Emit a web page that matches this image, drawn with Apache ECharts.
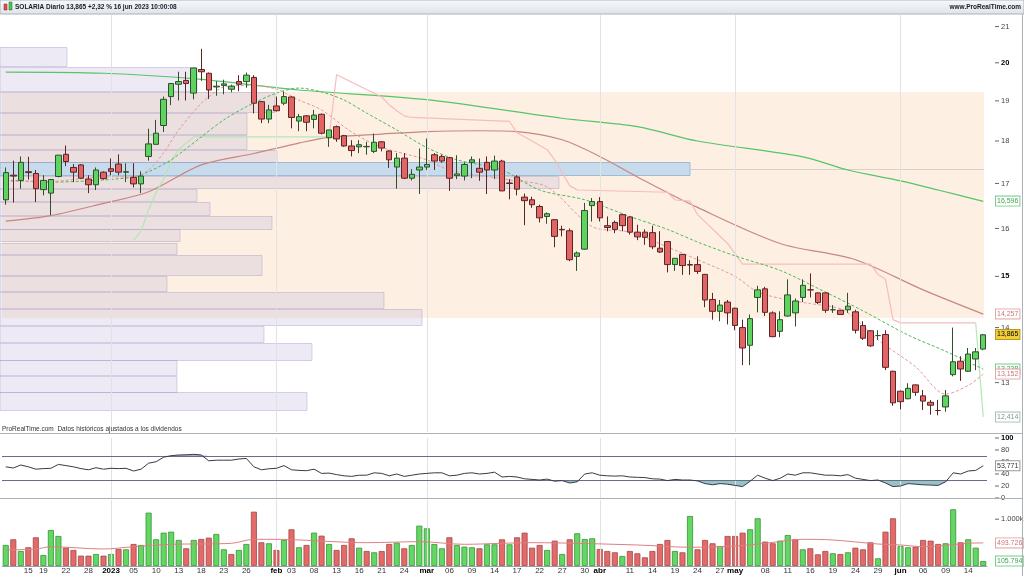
<!DOCTYPE html>
<html><head><meta charset="utf-8">
<script src="https://cdn.jsdelivr.net/npm/echarts@6/dist/echarts.min.js"></script>
<style>html,body{margin:0;padding:0;background:#fff}#c{width:1024px;height:576px}</style>
</head><body><div id="c"></div>
<script>
// ---------------- DATA ----------------
const dates = ['12/12','13/12','14/12','15/12','16/12','19/12','20/12','21/12','22/12','23/12','27/12','28/12','29/12','30/12',
'02/01','03/01','04/01','05/01','06/01','09/01','10/01','11/01','12/01','13/01','16/01','17/01','18/01','19/01','20/01','23/01','24/01','25/01','26/01','27/01','30/01','31/01',
'01/02','02/02','03/02','06/02','07/02','08/02','09/02','10/02','13/02','14/02','15/02','16/02','17/02','20/02','21/02','22/02','23/02','24/02','27/02','28/02',
'01/03','02/03','03/03','06/03','07/03','08/03','09/03','10/03','13/03','14/03','15/03','16/03','17/03','20/03','21/03','22/03','23/03','24/03','27/03','28/03','29/03','30/03','31/03',
'03/04','04/04','05/04','06/04','11/04','12/04','13/04','14/04','17/04','18/04','19/04','20/04','21/04','24/04','25/04','26/04','27/04','28/04',
'02/05','03/05','04/05','05/05','08/05','09/05','10/05','11/05','12/05','15/05','16/05','17/05','18/05','19/05','22/05','23/05','24/05','25/05','26/05','29/05','30/05','31/05',
'01/06','02/06','05/06','06/06','07/06','08/06','09/06','12/06','13/06','14/06','15/06','16/06'];

// [open, high, low, close]
const candles = [
[16.63,17.37,16.52,17.25],[17.19,17.53,16.57,17.17],[17.07,17.63,16.88,17.49],[17.27,17.62,17.09,17.25],[17.23,17.31,16.58,16.88],
[16.86,17.19,16.73,17.07],[16.78,17.09,16.29,17.09],[17.16,17.66,17.14,17.66],[17.68,17.89,17.40,17.51],[17.37,17.45,17.03,17.26],
[17.43,17.45,17.10,17.12],[17.10,17.19,16.78,16.97],[16.97,17.37,16.85,17.31],[17.26,17.28,17.09,17.11],
[17.34,17.58,17.19,17.28],[17.45,17.68,17.19,17.26],[17.26,17.47,17.03,17.27],[17.14,17.47,16.91,16.99],[16.99,17.28,16.78,17.17],
[17.63,18.30,17.53,17.93],[17.92,18.52,17.92,18.19],[18.38,19.11,18.22,19.04],[19.11,19.45,18.89,19.45],[19.43,19.76,19.01,19.50],
[19.53,19.76,19.01,19.45],[19.20,19.86,19.04,19.86],[19.82,20.38,19.52,19.76],[19.72,19.74,19.05,19.28],[19.36,19.51,19.13,19.38],
[19.40,19.55,19.17,19.44],[19.30,19.42,19.22,19.38],[19.50,19.67,19.25,19.43],[19.50,19.74,19.34,19.67],[19.61,19.67,18.68,18.94],
[18.98,19.00,18.44,18.54],[18.54,18.90,18.44,18.77],
[18.87,19.11,18.73,18.75],[18.94,19.24,18.89,19.11],[19.10,19.12,18.31,18.58],[18.49,18.67,18.24,18.60],[18.62,18.64,18.24,18.46],
[18.53,18.77,18.31,18.64],[18.66,18.68,18.16,18.19],[18.08,18.27,17.86,18.27],[18.35,18.38,17.98,18.05],[18.13,18.15,17.86,17.88],
[17.88,18.02,17.63,17.77],[17.86,18.02,17.71,17.91],[17.86,17.98,17.67,17.87],[17.75,18.18,17.71,17.97],[17.98,18.00,17.75,17.83],
[17.76,17.78,17.36,17.55],[17.38,17.71,16.88,17.59],[17.59,17.71,17.10,17.12],[17.12,17.33,17.07,17.21],[17.31,17.82,16.76,17.38],
[17.38,18.06,17.31,17.44],[17.67,17.71,17.31,17.52],[17.63,17.67,17.48,17.52],[17.60,17.62,16.83,17.12],[17.18,17.66,17.10,17.22],
[17.17,17.49,17.07,17.44],[17.49,17.63,17.12,17.55],[17.35,17.58,17.06,17.26],[17.49,17.63,16.76,17.31],[17.31,17.65,17.10,17.52],
[17.52,17.55,16.83,16.83],[17.01,17.10,16.64,17.00],[17.15,17.19,16.73,16.87],[16.69,16.77,16.07,16.61],[16.63,16.70,16.45,16.52],
[16.48,16.52,16.13,16.23],[16.26,16.35,16.10,16.32],[16.19,16.20,15.60,15.83],[15.98,16.06,15.83,15.97],[15.95,16.00,15.31,15.34],
[15.41,15.51,15.11,15.48],[15.56,16.56,15.55,16.39],[16.50,16.67,16.15,16.59],
[16.59,16.69,16.15,16.23],[16.06,16.26,15.94,16.02],[16.13,16.17,15.90,15.98],[16.30,16.32,15.94,16.06],[16.25,16.26,15.87,15.92],
[15.92,16.08,15.75,15.82],[15.92,15.98,15.65,15.81],[15.91,16.06,15.56,15.61],[15.58,15.94,15.48,15.50],[15.72,15.73,15.08,15.24],
[15.24,15.37,15.11,15.37],[15.45,15.46,15.03,15.22],[15.24,15.33,15.03,15.23],[15.24,15.41,15.05,15.10],[15.04,15.05,14.39,14.53],
[14.54,14.67,14.15,14.31],[14.31,14.53,14.12,14.43],[14.49,14.53,14.06,14.28],
[14.37,14.38,13.95,14.04],[14.00,14.15,13.31,13.62],[13.67,14.25,13.31,14.17],[14.58,14.81,14.29,14.73],[14.75,14.79,14.22,14.29],
[14.28,14.31,13.82,13.83],[13.93,14.31,13.82,14.15],[14.22,14.94,14.21,14.63],[14.28,14.56,14.02,14.51],[14.58,14.94,14.49,14.82],
[14.73,15.06,14.58,14.73],[14.67,14.68,14.45,14.48],[14.67,14.68,14.28,14.33],[14.34,14.43,14.28,14.34],[14.33,14.34,14.25,14.25],
[14.34,14.67,14.28,14.41],[14.30,14.34,13.89,13.95],[14.04,14.12,13.77,13.80],[13.94,13.95,13.64,13.66],[13.85,13.95,13.77,13.85],
[13.87,13.95,13.22,13.27],[13.20,13.21,12.60,12.65],
[12.85,12.86,12.54,12.67],[12.72,12.99,12.71,12.90],[12.96,12.97,12.77,12.83],[12.77,12.87,12.53,12.68],[12.66,12.70,12.45,12.61],
[12.52,12.70,12.44,12.52],[12.58,12.87,12.50,12.77],[13.14,14.00,13.11,13.37],[13.38,13.47,13.03,13.24],[13.20,13.62,13.19,13.51],
[13.42,13.62,13.22,13.55],[13.60,13.88,13.58,13.865]];

// volume in thousands of shares
const volumes = [449,570,320,400,613,235,769,641,391,342, 221,221,256,221,256,363,356,470,449,1139,
570,712,733,556,378,556,577,605,684,356, 256,342,470,1160,506,485,342,556,784,400,
449,712,648,470,342,449,591,391,320,292, 320,470,498,378,449,862,805,470,378,613,
449,413,400,378,463,463,570,463,613,712, 391,449,342,541,256,570,698,577,591,363,
320,292,214,320,271,185,320,470,556,320, 292,1068,356,556,485,427,641,641,712,784,
1019,520,485,541,662,570,356,378,249,320, 271,256,292,391,356,506,164,733,1019,427,
400,413,556,541,470,485,1211,506,570,391, 105.794];
const volumeUp = [1,0,1,0,0,1,1,1,0,0, 0,0,1,0,1,0,1,0,1,1, 1,1,1,1,0,1,0,0,1,1, 0,1,1,0,0,1,0,1,0,1,
0,1,0,1,0,0,0,1,0,1, 0,0,1,0,1,1,1,1,1,0, 1,1,1,0,1,1,0,1,0,0, 0,0,1,0,1,0,1,1,1,0,
0,0,1,0,0,0,0,0,0,1, 0,1,0,0,0,1,0,0,0,1, 1,0,0,1,1,0,1,0,0,0, 1,0,1,0,0,0,1,0,0,1,
1,0,0,0,0,1,1,0,1,1, 1];
const volumeAvg = [['12/12',342],['16/12',363],['20/12',412],['30/12',363],['05/01',412],['12/01',463],['24/01',485],
['27/01',570],['01/02',570],['06/02',556],['17/02',498],['28/02',520],['08/03',463],['15/03',485],['21/03',498],
['12/04',449],['21/04',400],['02/05',427],['08/05',485],['15/05',570],['19/05',556],['29/05',470],['01/06',449],
['06/06',412],['14/06',485],['16/06',493.726]];

const rsi = [52,50,55,52,48,49,49.5,56,54,52, 49,47,50.5,48,49.5,49,49.5,45,48,58,
60.5,68,70.5,71.7,72,72.8,71.7,62,63,63, 63,65,66,52,47,48.7,49.5,54,47,46,
45.5,48,41,41.5,39,37,36,38,38,42, 41,37,40,36,38,40,41,42,42,37,
38,41,42,40,41,43,35,36,35,32, 31,30,31.5,28,29,25,27,40,42,38,
37,36.5,37,35,34.5,34,32,31.5,29,31, 30,30,28.5,24,22,24,23,21,19,28,
38,33,29,33,40,38,42,42,40,38, 38,37,39,33,31,29,30,25,19,20,
24,23,22,21.5,21,27,42,40,45,46, 53.771];

const maLong = [['12/12',19.75],['30/12',19.72],['18/01',19.56],['06/02',19.28],['01/03',19.03],['27/03',18.56],
['12/04',18.35],['24/04',18.0],['15/05',17.62],['23/05',17.31],['01/06',17.06],['08/06',16.85],['16/06',16.596]];
const maMid = [['12/12',16.16],['20/12',16.28],['30/12',16.55],['09/01',16.81],['18/01',17.43],['27/01',17.70],
['06/02',17.95],['10/02',18.09],['21/02',18.17],['01/03',18.23],['10/03',18.25],['17/03',18.23],['27/03',18.03],
['03/04',17.63],['12/04',17.15],['24/04',16.46],['10/05',15.68],['24/05',15.34],['06/06',14.73],['16/06',14.257]];
const maFast = [['12/12',17.05],['20/12',17.05],['30/12',17.15],['05/01',17.15],['09/01',17.31],['11/01',17.72],
['13/01',18.27],['18/01',18.94],['19/01',19.10],['23/01',19.36],['27/01',19.40],['01/02',19.30],['06/02',19.02],
['09/02',18.77],['15/02',18.22],['21/02',17.85],['01/03',17.55],['06/03',17.31],['16/03',17.08],['23/03',16.92],
['31/03',16.04],['11/04',15.92],['19/04',15.54],['24/04',15.34],['02/05',15.0],['05/05',14.69],['11/05',14.53],
['16/05',14.46],['22/05',14.36],['24/05',14.17],['29/05',13.77],['05/06',13.28],['09/06',12.80],['14/06',12.95],['16/06',13.152]];
const maSlow = [['12/12',17.08],['20/12',17.03],['30/12',17.08],['05/01',17.15],['09/01',17.27],['12/01',17.55],
['18/01',18.10],['23/01',18.52],['26/01',18.85],['01/02',19.20],['06/02',19.33],['09/02',19.23],['14/02',19.02],
['17/02',18.69],['23/02',18.27],['01/03',17.84],['07/03',17.55],['15/03',17.31],['22/03',16.85],['30/03',16.63],
['11/04',16.26],['18/04',15.98],['24/04',15.71],['02/05',15.42],['10/05',15.12],['17/05',14.76],['25/05',14.32],
['02/06',13.86],['09/06',13.56],['16/06',13.238]];
const stopUp = [['05/01',15.75],['06/01',15.95],['09/01',16.4],['10/01',16.8],['11/01',17.1],['12/01',17.5],
['13/01',17.8],['17/01',18.1],['10/02',18.1]];
const stopDown = [['10/02',18.1],['13/02',19.68],['21/02',19.10],['22/02',18.9],['23/02',18.75],['24/02',18.62],
['27/02',18.58],['16/03',18.48],['17/03',18.2],['21/03',18.0],['23/03',17.79],['24/03',17.55],['28/03',16.95],
['29/03',16.85],['18/04',16.80],['19/04',16.63],['21/04',16.60],['24/04',16.3],['28/04',15.68],['03/05',15.25],
['26/05',15.25],['29/05',15.04],['30/05',14.94],['31/05',14.15],['01/06',14.09],['15/06',14.09]];
const stopUpEnd = [['15/06',14.09],['16/06',12.414]];

// volume-by-price profile: price band low / high and relative volume
const profileLow  = [12.51,12.83,13.12,13.40,13.72,14.03,14.36,14.69,15.00,15.44,15.70,15.98,16.28,16.58,16.87,17.17,17.49,17.79,18.15,18.69,19.23,19.89];
const profileHigh = [12.83,13.12,13.40,13.72,14.03,14.36,14.69,15.00,15.44,15.70,15.98,16.28,16.58,16.87,17.17,17.49,17.79,18.15,18.69,19.23,19.89,20.44];
const profileVol  = [305,175,175,310,262,420,382,165,260,175,178,270,208,195,557,688,275,245,245,273,195,65];
const profileMax = 985;
const pocPrice = [17.17,17.49];
const valueArea = [14.18,19.23];

const priceTicks = [13,14,15,16,17,18,19,20,21];
const priceTicksBold = [15,20];
const rsiTicks = [0,20,40,60,80,100];
const rsiBands = [30,70];
const tickLabels = [['15/12','15'],['19/12','19'],['22/12','22'],['28/12','28'],['02/01','2023'],['05/01','05'],['10/01','10'],
['13/01','13'],['18/01','18'],['23/01','23'],['26/01','26'],['01/02','feb'],['03/02','03'],['08/02','08'],['13/02','13'],
['16/02','16'],['21/02','21'],['24/02','24'],['01/03','mar'],['06/03','06'],['09/03','09'],['14/03','14'],['17/03','17'],
['22/03','22'],['27/03','27'],['30/03','30'],['03/04','abr'],['11/04','11'],['14/04','14'],['19/04','19'],['24/04','24'],
['27/04','27'],['02/05','may'],['08/05','08'],['11/05','11'],['16/05','16'],['19/05','19'],['24/05','24'],['29/05','29'],
['01/06','jun'],['06/06','06'],['09/06','09'],['14/06','14']];
const boldTickLabels = ['2023','feb','mar','abr','may','jun'];
const monthStarts = ['02/01','01/02','01/03','03/04','02/05','01/06'];
const headerText = 'SOLARIA Diario 13,865 +2,32 % 16 jun 2023 10:00:08';
const footText = 'ProRealTime.com  Datos históricos ajustados a los dividendos';

// ---------------- CHART ----------------
const FONT = '"Liberation Sans", Arial, sans-serif';
const chart = echarts.init(document.getElementById('c'), null, {renderer:'canvas'});
const labelMap = new Map(tickLabels);
const HIDE = {color:'rgba(0,0,0,0)', width:0};

function tickMark(v, bold, text){
  return {yAxis:v, lineStyle:HIDE, label:{show:true, position:'end', distance:8,
    formatter:'{d|}{' + (bold?'b':'n') + '|' + (text||v) + '}',
    rich:{d:{width:4,height:1,backgroundColor:'#666'},
          n:{fontSize:7.5,color:'#444',padding:[0,0,0,2],fontFamily:FONT},
          b:{fontSize:7.5,color:'#000',fontWeight:'bold',padding:[0,0,0,2],fontFamily:FONT}}}};
}
function valueBox(v, text, color, border, bg){
  return {yAxis:v, lineStyle:HIDE, label:{show:true, position:'end', distance:9, formatter:text,
    color:color, backgroundColor:bg||'#fff', borderColor:border, borderWidth:1, padding:[1,1,0,1],
    fontSize:7, fontFamily:FONT, lineHeight:8}};
}
const monthLines = monthStarts.map(d => ({xAxis:d, lineStyle:{color:'#e2e2e2',width:1,type:'solid'}, label:{show:false}}));
const ML = (data) => ({silent:true, symbol:['none','none'], animation:false, data});

const candleData = candles.map(c => [c[0], c[3], c[2], c[1]]);
const volData = volumes.map((v,i) => ({value:v, itemStyle: volumeUp[i]
  ? {color:'#62d862', borderColor:'#3b8f3b', borderWidth:0.8}
  : {color:'#e46a6a', borderColor:'#a24848', borderWidth:0.8}}));
// RSI excursions beyond the 70 / 30 bands (filled like the reference)
const rsiOverBase = rsi.map(() => rsiBands[1]);
const rsiOver = rsi.map(v => Math.max(v - rsiBands[1], 0));
const rsiUnderBase = rsi.map(v => Math.min(v, rsiBands[0]));
const rsiUnder = rsi.map(v => rsiBands[0] - Math.min(v, rsiBands[0]));

const grids = [
  {left:2, right:37, top:15, height:417},
  {left:2, right:37, top:438, height:60},
  {left:2, right:37, top:500, height:66}
].map(g => Object.assign(g, {outerBoundsMode:'none', containLabel:false}));

const catAxis = (gi, show) => ({type:'category', gridIndex:gi, data:dates, boundaryGap:true,
  axisLine:{show:show, lineStyle:{color:'#9aa4ae'}}, axisTick:{show:false}, splitLine:{show:false},
  axisLabel:{show:show, interval:(i,v)=>labelMap.has(v), margin:1, fontSize:8, color:'#333', fontFamily:FONT,
    formatter:(v)=>{const t=labelMap.get(v)||''; return boldTickLabels.includes(t)?'{b|'+t+'}':t;},
    rich:{b:{fontWeight:'bold',fontSize:8,color:'#000',fontFamily:FONT}}}});

const areaLine = (data, stack, fill) => ({type:'line', xAxisIndex:1, yAxisIndex:1, z:4, data, stack, showSymbol:false,
  silent:true, lineStyle:{width:0, color:'rgba(0,0,0,0)'}, areaStyle: fill ? {color:fill, opacity:1} : undefined});

const option = {
  animation:false,
  backgroundColor:'#fff',
  grid: grids,
  xAxis: [catAxis(0,false), catAxis(1,false), catAxis(2,true),
    {type:'value', gridIndex:0, min:0, max:profileMax, show:false}],
  yAxis: [
    {type:'log', gridIndex:0, min:12.163, max:21.33, logBase:10, show:false, splitLine:{show:false}},
    {type:'value', gridIndex:1, min:0, max:100, show:false, splitLine:{show:false}},
    {type:'value', gridIndex:2, min:0, max:1410, show:false, splitLine:{show:false}}
  ],
  graphic: [
    {type:'rect', silent:true, z:100, shape:{x:0,y:0,width:1024,height:14},
      style:{fill:new echarts.graphic.LinearGradient(0,0,0,1,[{offset:0,color:'#f8fafc'},{offset:1,color:'#dde3e9'}]), stroke:'#aab3bc', lineWidth:1}},
    {type:'rect', silent:true, z:101, shape:{x:4,y:4,width:3,height:6}, style:{fill:'#e05050',stroke:'#802020',lineWidth:0.5}},
    {type:'rect', silent:true, z:101, shape:{x:9,y:2,width:3,height:8}, style:{fill:'#50c850',stroke:'#206020',lineWidth:0.5}},
    {type:'text', silent:true, z:101, x:15, y:7, style:{text:headerText, font:'bold 6.5px '+FONT, fill:'#1a1a28', verticalAlign:'middle'}},
    {type:'text', silent:true, z:101, x:1021, y:7, style:{text:'www.ProRealTime.com', font:'bold 6.5px '+FONT, fill:'#1a1a28', align:'right', verticalAlign:'middle'}},
    {type:'text', silent:true, z:101, x:2, y:429, style:{text:footText, font:'6.5px '+FONT, fill:'#333', verticalAlign:'middle'}},
    {type:'line', silent:true, z:100, shape:{x1:0,y1:433.5,x2:1022,y2:433.5}, style:{stroke:'#a9b2bb',lineWidth:1}},
    {type:'line', silent:true, z:100, shape:{x1:0,y1:498.5,x2:1022,y2:498.5}, style:{stroke:'#a9b2bb',lineWidth:1}},
    {type:'line', silent:true, z:100, shape:{x1:1022.5,y1:14,x2:1022.5,y2:576}, style:{stroke:'#a9b2bb',lineWidth:1}}
  ],
  series: [
    { // value area
      type:'custom', xAxisIndex:3, yAxisIndex:0, z:0, silent:true, data:[valueArea],
      encode:{x:-1, y:[0,1]},
      renderItem:(params, api) => {
        const cs = params.coordSys;
        const top = api.coord([0, api.value(1)])[1], bot = api.coord([0, api.value(0)])[1];
        return {type:'rect', shape:{x:cs.x, y:top, width:cs.width-3, height:bot-top}, style:{fill:'#fdf0e2'}};
      }
    },
    { // volume profile
      type:'custom', xAxisIndex:3, yAxisIndex:0, z:1, silent:true,
      data: profileLow.map((lo,i) => [lo, profileHigh[i], profileVol[i]]),
      encode:{x:2, y:[0,1]},
      renderItem:(params, api) => {
        const lo = api.value(0), hi = api.value(1), w = api.value(2);
        const p1 = api.coord([0, hi]), p2 = api.coord([w, lo]);
        const poc = lo === pocPrice[0];
        const rect = {type:'rect', shape:{x:p1[0]-2, y:Math.round(p1[1])+0.5, width:p2[0]-p1[0]+2, height:Math.round(p2[1]-p1[1])-1},
          style: poc ? {fill:'#c7dbec', stroke:'#9fbcd6', lineWidth:1}
                     : {fill:'rgba(185,175,215,0.26)', stroke:'rgba(160,150,195,0.40)', lineWidth:1}};
        if (!poc) return rect;
        const cs = params.coordSys, mid = api.coord([w, Math.sqrt(lo*hi)]);
        return {type:'group', children:[rect,
          {type:'line', shape:{x1:mid[0], y1:Math.round(mid[1])+0.5, x2:cs.x+cs.width-3, y2:Math.round(mid[1])+0.5}, style:{stroke:'rgba(150,150,170,0.35)', lineWidth:1}}]};
      }
    },
    {type:'line', name:'ma200', xAxisIndex:0, yAxisIndex:0, z:3, data:maLong, showSymbol:false, smooth:0.3,
      lineStyle:{color:'#56c46a', width:1.2}},
    {type:'line', name:'ma50', xAxisIndex:0, yAxisIndex:0, z:3, data:maMid, showSymbol:false, smooth:0.3,
      lineStyle:{color:'#c98680', width:1.2}},
    {type:'line', name:'stopDown', xAxisIndex:0, yAxisIndex:0, z:3, data:stopDown, showSymbol:false,
      lineStyle:{color:'#f6bcbc', width:1.2}},
    {type:'line', name:'stopUp', xAxisIndex:0, yAxisIndex:0, z:3, data:stopUp, showSymbol:false,
      lineStyle:{color:'#b5e6b5', width:1.2}},
    {type:'line', name:'stopUpEnd', xAxisIndex:0, yAxisIndex:0, z:3, data:stopUpEnd, showSymbol:false,
      lineStyle:{color:'#b5e6b5', width:1.2}},
    {type:'line', name:'ma20', xAxisIndex:0, yAxisIndex:0, z:3, data:maSlow, showSymbol:false, smooth:0.3,
      lineStyle:{color:'#4cb85c', width:1, type:[3,2]}},
    {type:'line', name:'ma10', xAxisIndex:0, yAxisIndex:0, z:3, data:maFast, showSymbol:false, smooth:0.3,
      lineStyle:{color:'#e39a9a', width:1, type:[3,2]}},
    {type:'candlestick', xAxisIndex:0, yAxisIndex:0, z:5, data:candleData, barWidth:6,
      itemStyle:{color:'#5fd35f', color0:'#e26464', borderColor:'#2f4f2f', borderColor0:'#5a2525', borderWidth:1},
      markLine: ML([].concat(monthLines,
        priceTicks.map(v => tickMark(v, priceTicksBold.includes(v))),
        [valueBox(16.596,'16,596','#3f9f4f','#7ccf8a'),
         valueBox(14.257,'14,257','#c77','#e3a8a8'),
         valueBox(13.865,'13,865','#000','#b89a20','#f2cf3a'),
         valueBox(13.238,'13,238','#3f9f4f','#7ccf8a'),
         valueBox(13.152,'13,152','#c77','#e3a8a8'),
         valueBox(12.414,'12,414','#7a9a90','#aabfb8')]))
    },
    areaLine(rsiOverBase, 'over', null),
    areaLine(rsiOver, 'over', 'rgba(120,100,160,0.55)'),
    areaLine(rsiUnderBase, 'under', null),
    areaLine(rsiUnder, 'under', 'rgba(60,150,140,0.55)'),
    {type:'line', name:'rsi', xAxisIndex:1, yAxisIndex:1, z:5, data:rsi, showSymbol:false,
      lineStyle:{color:'#3a3a44', width:1},
      markLine: ML([].concat(monthLines,
        rsiBands.map(v => ({yAxis:v, lineStyle:{color:'#6a6a90', width:1.2, type:'solid'}, label:{show:false}})),
        rsiTicks.map(v => tickMark(v, v===100)),
        [valueBox(53.771,'53,771','#333','#999')]))
    },
    {type:'bar', name:'vol', xAxisIndex:2, yAxisIndex:2, z:4, data:volData, barWidth:6,
      markLine: ML([].concat(monthLines, [
        tickMark(1000, false, '1.000k'),
        valueBox(493.726,'493.726','#c77','#e3a8a8'),
        valueBox(105.794,'105.794','#3f9f4f','#7ccf8a')]))
    },
    {type:'line', name:'volAvg', xAxisIndex:2, yAxisIndex:2, z:5, data:volumeAvg, showSymbol:false, smooth:0.3,
      lineStyle:{color:'#e07f7f', width:1}}
  ]
};
chart.setOption(option);
</script></body></html>
